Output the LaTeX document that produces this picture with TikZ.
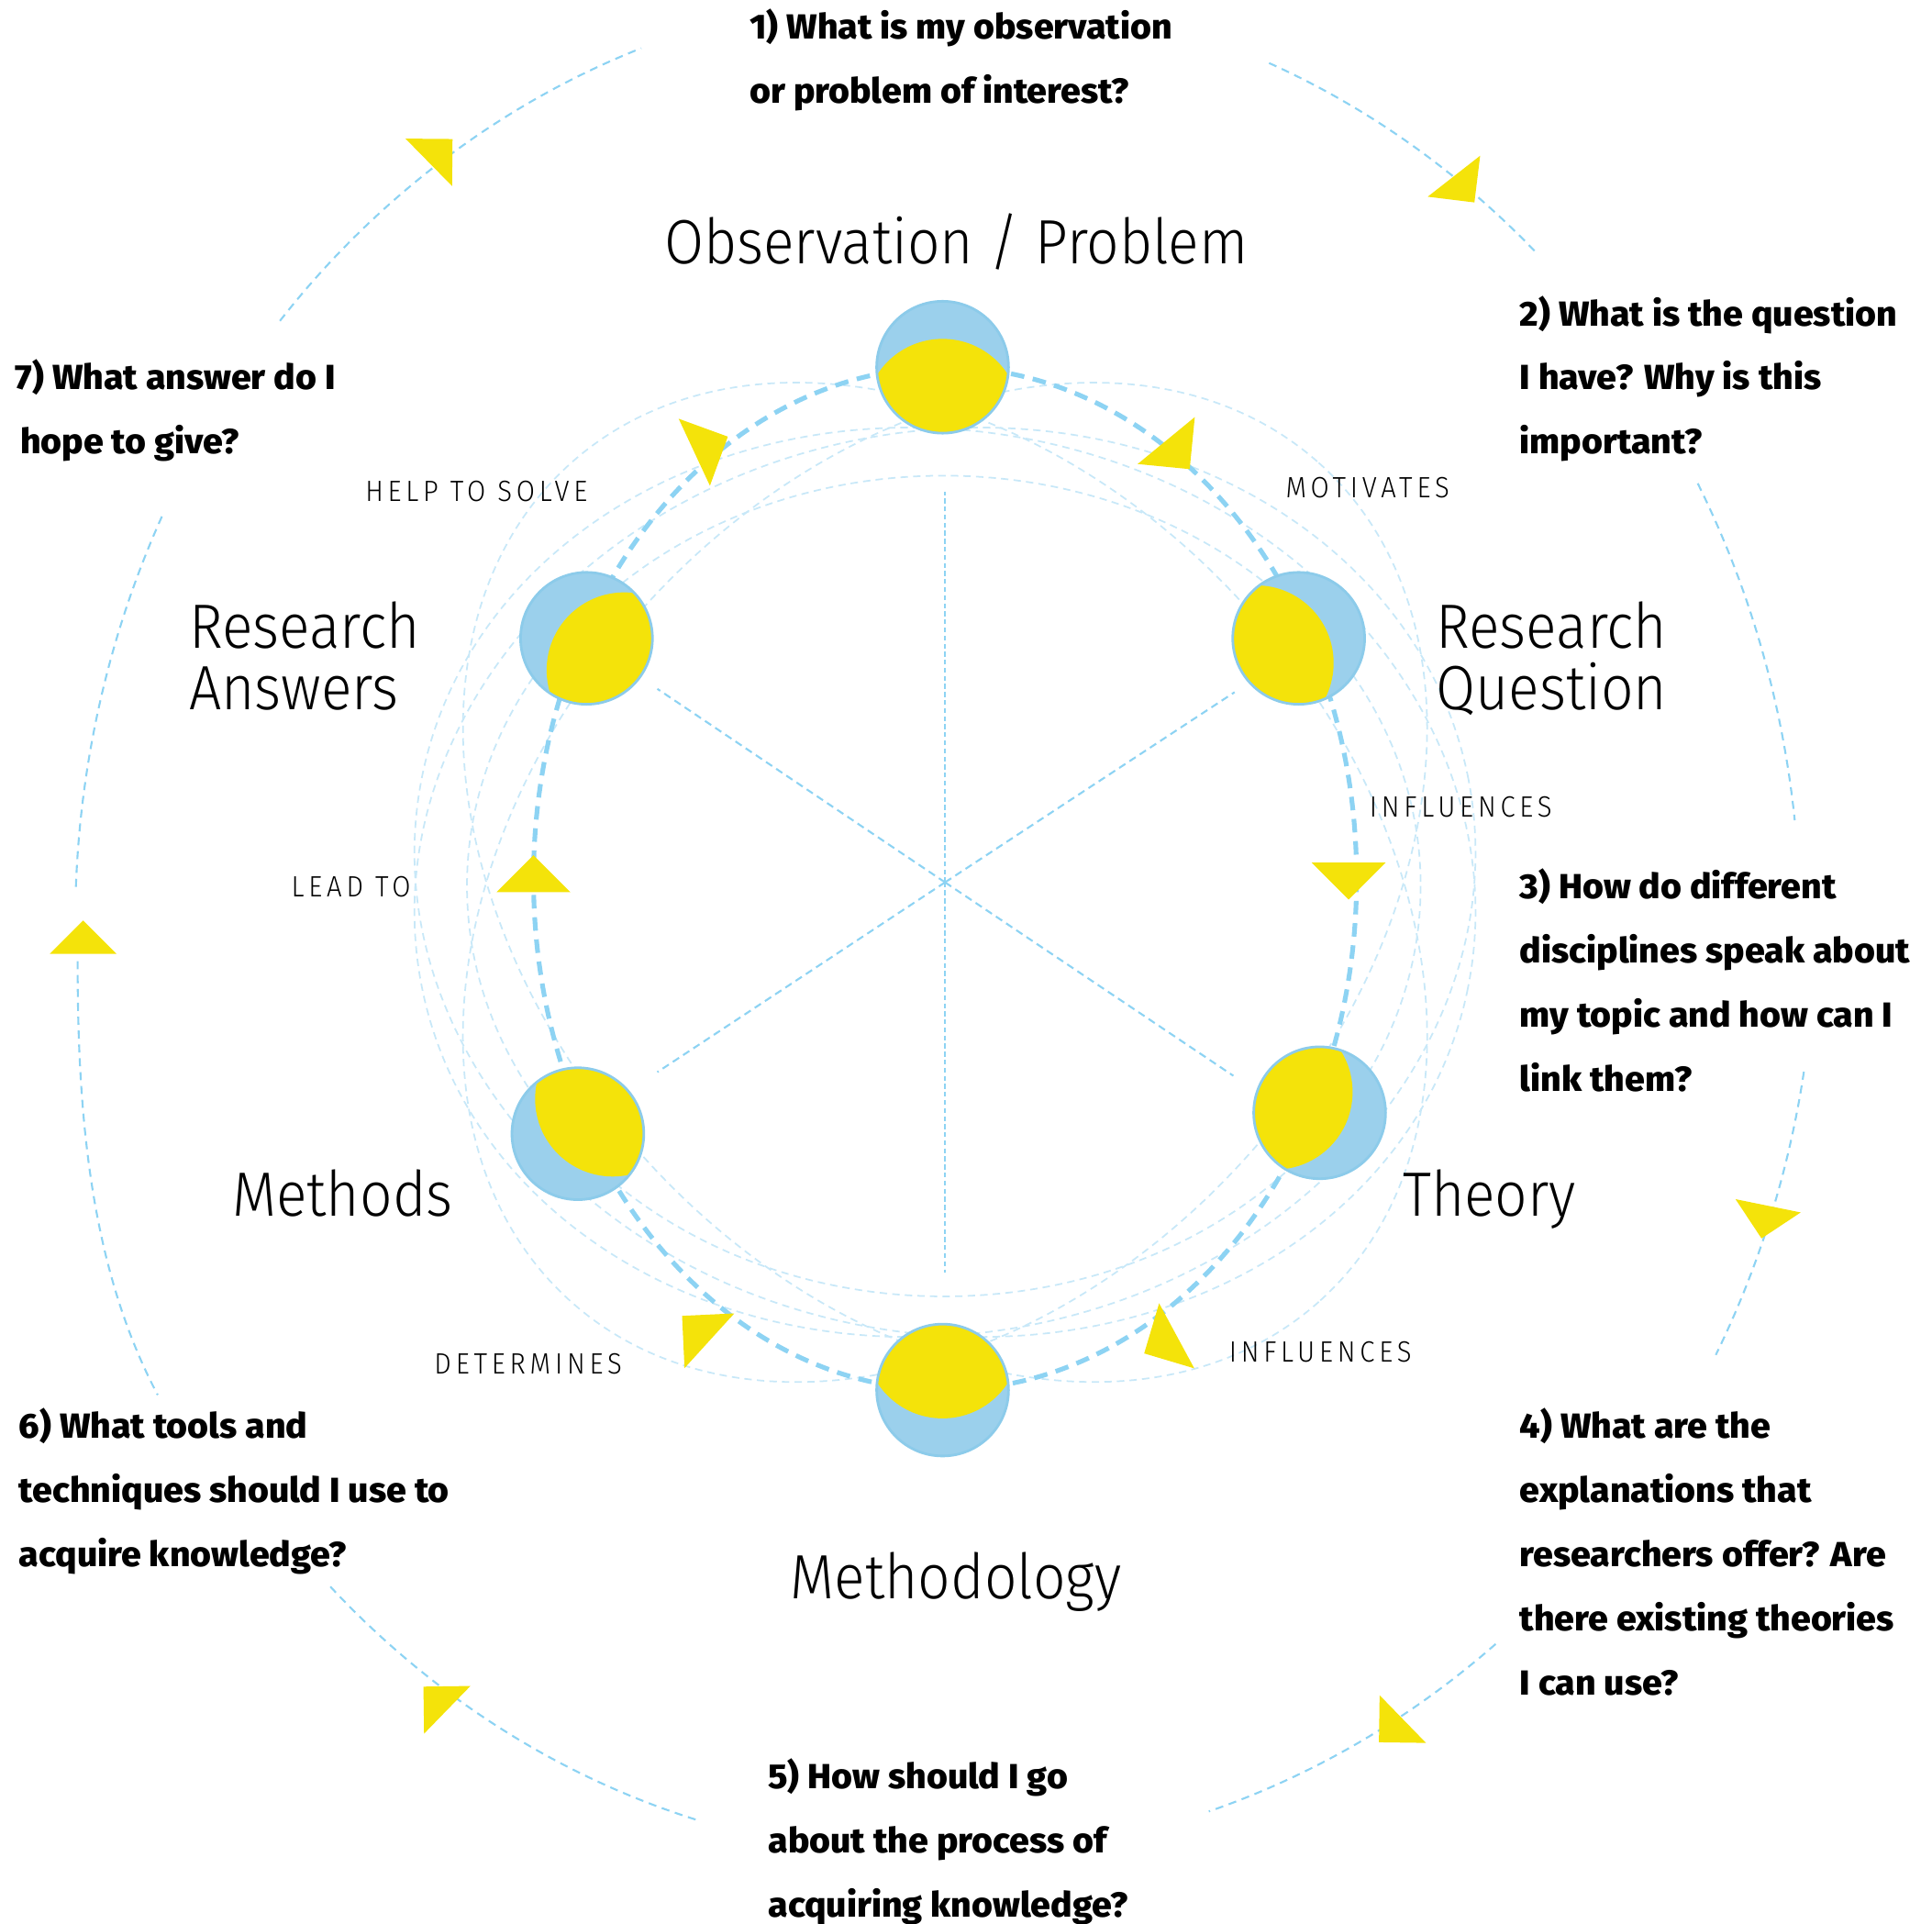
\documentclass[tikz,border=0pt]{standalone}
\usepackage{fontspec}
\newfontfamily\tipis{Fira Sans Light}[FakeStretch=0.915]
\newfontfamily\tebal{Fira Sans ExtraBold}[FakeStretch=1.035]
\definecolor{birumuda}{HTML}{9BD0EC}
\definecolor{birugaris}{HTML}{8DD3F3}
\definecolor{birupudar}{HTML}{C8E8F8}
\definecolor{kuning}{HTML}{F4E30A}
\definecolor{tepi}{HTML}{8CCBEA}
% segitiga kuning: x, y, sudut, ukuran
\newcommand{\panah}[4]{\fill[kuning, shift={(#1,#2)}, rotate=-#3] (#4,0) -- (0,#4) -- (0,-#4) -- cycle;}

\begin{document}
\begin{tikzpicture}[x=0.0134311cm, y=-0.0134311cm,
    bulan/.style={circle, minimum size=1.437cm, inner sep=0pt, fill=birumuda, draw=tepi, line width=0.8pt,
      path picture={\fill[kuning] (path picture bounding box.center) ++(#1:40) circle (63);}},
    siklus/.style={draw=birugaris, line width=1.45pt, dash pattern=on 4.2pt off 2.7pt},
    tipisgaris/.style={draw=birupudar, line width=0.5pt, dash pattern=on 2.3pt off 1.6pt},
    jari/.style={draw=birugaris, line width=0.6pt, dash pattern=on 2.3pt off 1.5pt},
    luar/.style={draw=birugaris, line width=0.6pt, dash pattern=on 2.5pt off 1.8pt},
    besar/.style={font=\tipis\fontsize{19.4}{19}\selectfont, inner sep=0pt, anchor=base west},
    kecil/.style={font=\tipis\fontsize{9.1}{10}\selectfont\addfontfeature{LetterSpace=15}, inner sep=0pt, anchor=base west},
    tanya/.style={font=\tebal\fontsize{10.8}{19.9}\selectfont, inner sep=0pt, align=left, anchor=base west}]
    \useasboundingbox (0,0) rectangle (1568,1561);
    %KOORDINAT
    \coordinate (pusat) at (767,716);
    %ELIPS TIPIS
    \draw[tipisgaris] (766,719) ellipse [x radius=387, y radius=333];
    \draw[tipisgaris, rotate around={-48.3:(pusat)}] (pusat) ellipse [x radius=456, y radius=331];
    \draw[tipisgaris, rotate around={48.3:(pusat)}] (pusat) ellipse [x radius=456, y radius=331];
    \draw[tipisgaris, rotate around={-11.5:(pusat)}] (pusat) ellipse [x radius=433, y radius=366];
    \draw[tipisgaris, rotate around={11.5:(pusat)}] (pusat) ellipse [x radius=433, y radius=366];
    %JARI-JARI
    \draw[jari, dash pattern=on 1.5pt off 1pt] (pusat) -- (767,399);
    \draw[jari, dash pattern=on 1.5pt off 1pt] (pusat) -- (767,1033);
    \foreach \p in {(533.5,559),(1001,873),(1002,561.7),(533.5,870)}
      \draw[jari] (pusat) -- \p;
    %SIKLUS
    \draw[siklus] (767,713) ellipse [x radius=334, y radius=415];
    %BULAN
    \node[bulan=90]  (obs)     at (765,298)  {};
    \node[bulan=150] (rq)      at (1054,518) {};
    \node[bulan=205] (theory)  at (1071,903) {};
    \node[bulan=270] (mthd)    at (765,1128) {};
    \node[bulan=315] (methods) at (469,920)  {};
    \node[bulan=40]  (ra)      at (476,518)  {};
    %PANAH DALAM
    \panah{563.5}{367}{-25}{30}
    \panah{946.5}{357.5}{50.6}{30}
    \panah{1094.5}{700}{90}{30}
    \panah{955}{1084}{151.6}{30}
    \panah{575.75}{1088}{222.3}{30}
    \panah{433}{724}{270}{30}
    %BUSUR LUAR
    \foreach \a/\b in {220.3/249.9, 292.6/314.1, 331.8/353.6, 106.3/135, 182.3/206}
      \draw[luar] (761,750) ++(\a:700 and 757) arc[start angle=\a, end angle=\b, x radius=700, y radius=757];
    \foreach \a/\b in {9.1/27.5, 50.5/72}
      \draw[luar] (761,750) ++(\a:712 and 757) arc[start angle=\a, end angle=\b, x radius=712, y radius=757];
    \draw[luar] (63,780) .. controls (63,900) and (72,1026) .. (128,1132);
    %PANAH LUAR
    \panah{348}{131.75}{-44.5}{27}
    \panah{1180}{143}{52}{27}
    \panah{1435}{978.5}{101.5}{27}
    \panah{1138.5}{1395}{135.8}{27}
    \panah{363}{1387.5}{224.2}{27}
    \panah{67.5}{774}{270}{27}
    %LABEL
    \node[besar, anchor=base] (lobs) at (776,214) {Observation / Problem};
    \node[besar] (lra1) at (153,526) {Research};
    \node[besar] (lra2) at (153,576) {Answers};
    \node[besar] (lrq1) at (1165,526) {Research};
    \node[besar] (lrq2) at (1165,576) {Question};
    \node[besar] (lmethods) at (188,987) {Methods};
    \node[besar] (ltheory) at (1138,987) {Theory};
    \node[besar] (lmthd) at (641,1297) {Methodology};
    \node[kecil] (khelp) at (296,407) {HELP TO SOLVE};
    \node[kecil] (kmot) at (1043,404) {MOTIVATES};
    \node[kecil] (kinfa) at (1111,663) {INFLUENCES};
    \node[kecil] (klead) at (236,728) {LEAD TO};
    \node[kecil] (kdet) at (352,1115) {DETERMINES};
    \node[kecil] (kinfb) at (997,1105) {INFLUENCES};
    %PERTANYAAN (base = baris terakhir)
    \node[tanya] (q1) at (608,83.5) {1) What is my observation\\or problem of interest?};
    \node[tanya] (q2) at (1233,368.5) {2) What is the question\\I have? Why is this\\important?};
    \node[tanya] (q3) at (1233,885.5) {3) How do different\\disciplines speak about\\my topic and how can I\\link them?};
    \node[tanya] (q4) at (1233,1375.5) {4) What are the\\explanations that\\researchers offer? Are\\there existing theories\\I can use?};
    \node[tanya] (q5) at (623,1555.5) {5) How should I go\\about the process of\\acquiring knowledge?};
    \node[tanya] (q6) at (15,1271.5) {6) What tools and\\techniques should I use to\\acquire knowledge?};
    \node[tanya] (q7) at (12,368.5) {7) What answer do I\\\hspace{1.5pt}hope to give?};
\end{tikzpicture}
\end{document}
